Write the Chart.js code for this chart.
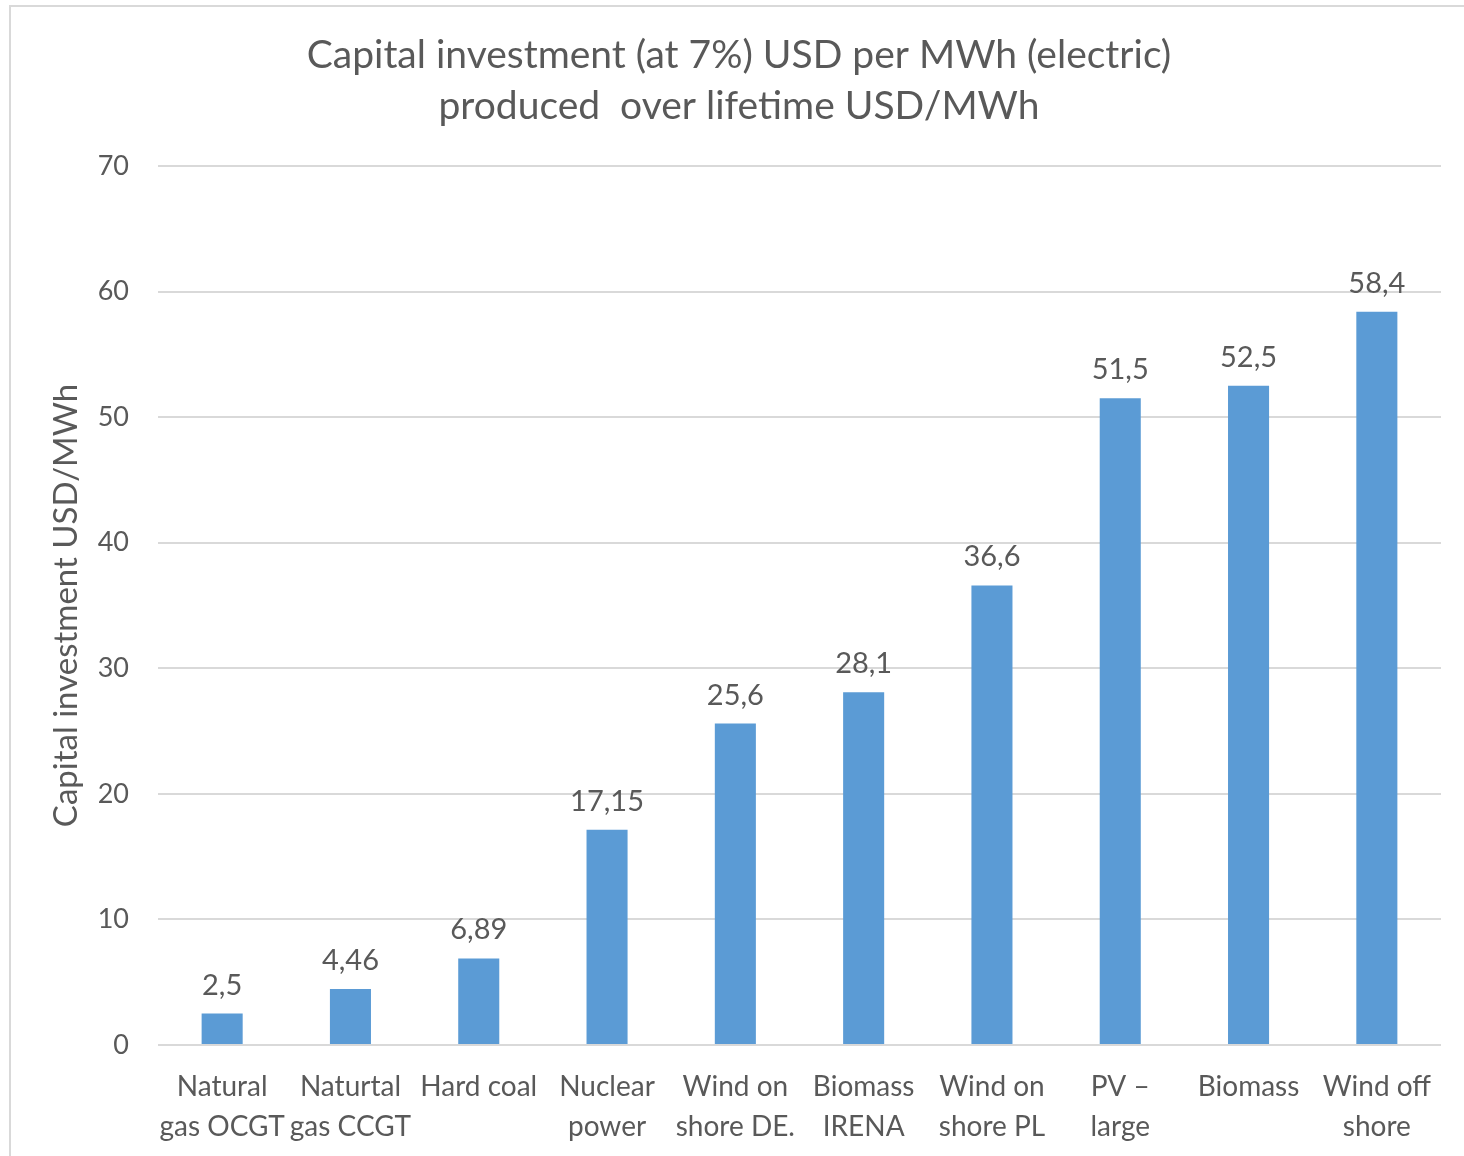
<!DOCTYPE html>
<html>
<head>
<meta charset="utf-8">
<script src="https://cdn.jsdelivr.net/npm/chart.js@4.4.1/dist/chart.umd.min.js"></script>
<style>
  html, body { margin: 0; padding: 0; background: #fff; overflow: hidden; }
  #frame { position: absolute; left: 9px; top: 5px; width: 1500px; height: 1200px; border: 2px solid #d9d9d9; }
  #wrap { position: absolute; left: 0; top: 0; width: 1464px; height: 1156px; }
</style>
</head>
<body>
<div id="frame"></div>
<div id="wrap"><canvas id="myChart" width="1464" height="1156"></canvas></div>
<script>
const categories = [
  ['Natural', 'gas OCGT'],
  ['Naturtal', 'gas CCGT'],
  'Hard coal',
  ['Nuclear', 'power'],
  ['Wind on', 'shore DE.'],
  ['Biomass', 'IRENA'],
  ['Wind on', 'shore PL'],
  ['PV \u2013', 'large'],
  'Biomass',
  ['Wind off', 'shore']
];
const values = [2.5, 4.46, 6.89, 17.15, 25.6, 28.1, 36.6, 51.5, 52.5, 58.4];
const titleLines = ['Capital investment (at 7%) USD per MWh (electric)', 'produced  over lifetime USD/MWh'];
const yTitle = 'Capital investment USD/MWh';

const textColor = '#595959';
const fontName = 'Lato, "Open Sans", sans-serif';

// chart title, centred on the outer frame rather than the canvas
const chartTitle = {
  id: 'chartTitle',
  afterDraw(chart){
    const ctx = chart.ctx;
    ctx.save();
    ctx.font = '39px ' + fontName;
    ctx.fillStyle = textColor;
    ctx.textAlign = 'center';
    ctx.textBaseline = 'alphabetic';
    ctx.fillText(titleLines[0], 739, 68);
    ctx.fillText(titleLines[1], 739, 119);
    ctx.restore();
  }
};

// draws the value over each bar, with a comma as decimal mark
const barLabels = {
  id: 'barLabels',
  afterDatasetsDraw(chart){
    const ctx = chart.ctx;
    const meta = chart.getDatasetMeta(0);
    ctx.save();
    ctx.font = '29px ' + fontName;
    ctx.fillStyle = textColor;
    ctx.textAlign = 'center';
    ctx.textBaseline = 'alphabetic';
    meta.data.forEach(function(bar, i){
      let txt = String(values[i]).replace('.', ',');
      ctx.fillText(txt, bar.x, bar.y - 19);
    });
    ctx.restore();
  }
};

const ctx = document.getElementById('myChart').getContext('2d');
const chart = new Chart(ctx, {
  type: 'bar',
  data: {
    labels: categories,
    datasets: [{
      data: values,
      backgroundColor: '#5b9bd5',
      borderWidth: 0,
      barPercentage: 0.32,
      categoryPercentage: 1.0
    }]
  },
  options: {
    responsive: false,
    animation: false,
    layout: { padding: { left: 14, right: 23, top: 166, bottom: 0 } },
    plugins: {
      legend: { display: false },
      tooltip: { enabled: false },
      title: { display: false }
    },
    scales: {
      x: {
        grid: { display: false },
        border: { display: false },
        ticks: {
          color: textColor,
          font: { family: fontName, size: 28, lineHeight: 1.43 },
          padding: 14,
          autoSkip: false,
          maxRotation: 0,
          minRotation: 0
        },
        afterFit(scale){ scale.height = 111; }
      },
      y: {
        min: 0,
        max: 70,
        grid: { color: '#d9d9d9', lineWidth: 2, drawTicks: false },
        border: { display: false },
        ticks: {
          stepSize: 10,
          color: textColor,
          font: { family: fontName, size: 27 },
          padding: 29
        },
        title: {
          display: true,
          text: yTitle,
          color: textColor,
          font: { family: fontName, size: 33, lineHeight: 1.2 },
          padding: { top: 33, bottom: 0 }
        },
        afterFit(scale){ scale.width = 144; }
      }
    }
  },
  plugins: [barLabels, chartTitle]
});
</script>
</body>
</html>
